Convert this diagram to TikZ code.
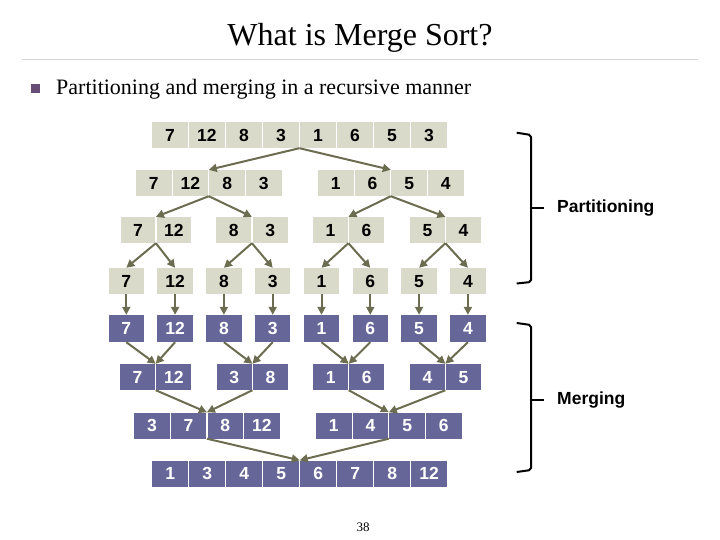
\documentclass[tikz,border=0pt]{standalone}
\usepackage{fontspec}
\setmainfont{Liberation Serif}
\newfontfamily\arialf{Liberation Sans}
\usetikzlibrary{arrows.meta,calc}
\definecolor{boxgray}{RGB}{218,218,202}
\definecolor{boxblue}{RGB}{102,102,153}
\definecolor{arrowc}{RGB}{108,108,80}
\definecolor{bulletc}{RGB}{104,78,118}
\definecolor{rulec}{RGB}{212,212,212}
% #1 prefix, #2 style, #3 left x, #4 pitch, #5 y centre, #6 values, #7 first index
\newcommand\mkrow[7]{%
  \foreach \v [count=\k] in {#6} {%
    \pgfmathtruncatemacro\idx{\k+#7-1}%
    \node[#2, minimum width={#4-1.2}] (#1-\idx) at ({#3+#4*(\k-1)+(#4-1.2)/2},#5) {\v};
  }%
}
\tikzset{
  box/.style={inner sep=0pt, minimum height=26pt, text height=12.5pt, text depth=0pt,
    font=\arialf\bfseries\fontsize{17.5}{17.5}\selectfont},
  gbox/.style={box, fill=boxgray, text=black},
  bbox/.style={box, fill=boxblue, text=white},
  arr/.style={draw=arrowc, line width=2pt, -{Triangle[length=8pt,width=8pt]}},
  brk/.style={draw=black, line width=2pt, rounded corners=2pt},
  lbl/.style={inner sep=0pt, anchor=west, font=\arialf\bfseries\fontsize{17.5}{17.5}\selectfont}
}
\begin{document}
\begin{tikzpicture}[x=1pt, y=-1pt]
\useasboundingbox (0,0) rectangle (720,540);
% title and bullet
\node[anchor=base, inner sep=0pt] (title) at (360,46) {\fontsize{32}{32}\selectfont What is Merge Sort?};
\draw[rulec, line width=1pt] (22,60) -- (698,60);
\node[fill=bulletc, minimum size=9pt, inner sep=0pt] (sq) at (35.5,88.5) {};
\node[anchor=base west, inner sep=0pt] (bul) at (56,95) {\fontsize{22}{22}\selectfont Partitioning and merging in a recursive manner};
% rows
\mkrow{a}{gbox}{152}{37}{135}{7,12,8,3,1,6,5,3}{1}
\mkrow{b}{gbox}{136}{36.7}{183}{7,12,8,3}{1}
\mkrow{b}{gbox}{318}{36.7}{183}{1,6,5,4}{5}
\mkrow{c}{gbox}{120.5}{36}{230}{7,12}{1}
\mkrow{c}{gbox}{216}{36.5}{230}{8,3}{3}
\mkrow{c}{gbox}{313}{36}{230}{1,6}{5}
\mkrow{c}{gbox}{410}{36}{230}{5,4}{7}
\foreach \v [count=\k] in {7,12,8,3,1,6,5,4} {
  \node[gbox, minimum width=35.5pt] (d-\k) at ({126.3+48.8*(\k-1)},281) {\v};
  \node[bbox, minimum width=35.5pt, minimum height=27pt] (e-\k) at ({126.3+48.8*(\k-1)},328.5) {\v};
}
\mkrow{f}{bbox}{120}{36.3}{377}{7,12}{1}
\mkrow{f}{bbox}{216.7}{36.3}{377}{3,8}{3}
\mkrow{f}{bbox}{313.3}{36}{377}{1,6}{5}
\mkrow{f}{bbox}{410}{36}{377}{4,5}{7}
\mkrow{g}{bbox}{134.3}{36.6}{425.5}{3,7,8,12}{1}
\mkrow{g}{bbox}{316}{36.7}{425.5}{1,4,5,6}{5}
\mkrow{h}{bbox}{152.3}{37}{473.5}{1,3,4,5,6,7,8,12}{1}
% split/join points
\coordinate (sa) at ($(a-4.south east)!.5!(a-5.south west)$);
\coordinate (tb1) at ($(b-2.north east)!.5!(b-3.north west)$);
\coordinate (tb2) at ($(b-6.north east)!.5!(b-7.north west)$);
\coordinate (sb1) at ($(b-2.south east)!.5!(b-3.south west)$);
\coordinate (sb2) at ($(b-6.south east)!.5!(b-7.south west)$);
\foreach \p/\q/\n in {1/2/1,3/4/2,5/6/3,7/8/4} {
  \coordinate (tc\n) at ($(c-\p.north east)!.5!(c-\q.north west)$);
  \coordinate (sc\n) at ($(c-\p.south east)!.5!(c-\q.south west)$);
  \coordinate (tf\n) at ($(f-\p.north east)!.5!(f-\q.north west)$);
  \coordinate (sf\n) at ($(f-\p.south east)!.5!(f-\q.south west)$);
}
\coordinate (tg1) at ($(g-2.north east)!.5!(g-3.north west)$);
\coordinate (tg2) at ($(g-6.north east)!.5!(g-7.north west)$);
\coordinate (sg1) at ($(g-2.south east)!.5!(g-3.south west)$);
\coordinate (sg2) at ($(g-6.south east)!.5!(g-7.south west)$);
\coordinate (th) at ($(h-4.north east)!.5!(h-5.north west)$);
% arrows
\draw[arr] (sa) -- (tb1);
\draw[arr] (sa) -- (tb2);
\draw[arr] (sb1) -- (tc1);
\draw[arr] (sb1) -- (tc2);
\draw[arr] (sb2) -- (tc3);
\draw[arr] (sb2) -- (tc4);
\foreach \n [evaluate=\n as \l using int(2*\n-1), evaluate=\n as \r using int(2*\n)] in {1,2,3,4} {
  \draw[arr] (sc\n) -- (d-\l.north);
  \draw[arr] (sc\n) -- (d-\r.north);
  \draw[arr] (e-\l.south) -- (tf\n);
  \draw[arr] (e-\r.south) -- (tf\n);
}
\foreach \k in {1,...,8} { \draw[arr] (d-\k.south) -- (e-\k.north); }
\draw[arr] (sf1) -- (tg1);
\draw[arr] (sf2) -- (tg1);
\draw[arr] (sf3) -- (tg2);
\draw[arr] (sf4) -- (tg2);
\draw[arr] (sg1) -- (th);
\draw[arr] (sg2) -- (th);
% brackets
\draw[brk] (516.7,132.7) -- (531,135) -- (531,282) -- (516.7,283.5);
\draw[brk] (531,208.3) -- (544,208.3);
\node[lbl] (part) at (557,208.5) {Partitioning};
\draw[brk] (516.7,323) -- (531,325) -- (531,470) -- (516.7,472);
\draw[brk] (531,400) -- (544,400);
\node[lbl] (merg) at (557,400) {Merging};
% page number
\node (pg) at (363,527) {\fontsize{13}{13}\selectfont 38};
\end{tikzpicture}
\end{document}
